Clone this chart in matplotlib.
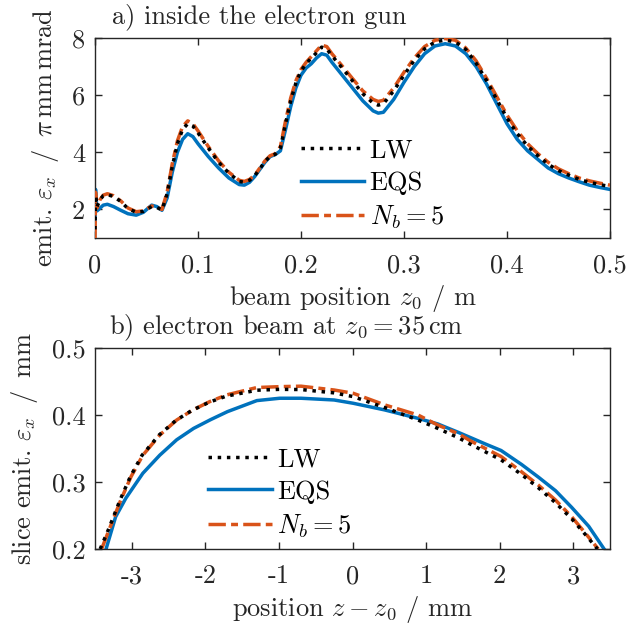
import numpy as np
import matplotlib
matplotlib.use('Agg')
import matplotlib.pyplot as plt

# --- a) emittance along the gun ---
z0_gun = [0, 0.0005, 0.002, 0.005, 0.008, 0.012, 0.018, 0.025, 0.032, 0.04, 0.047,
          0.055, 0.06, 0.065, 0.07, 0.075, 0.08, 0.085, 0.09, 0.095, 0.1, 0.11, 0.12,
          0.13, 0.14, 0.145, 0.15, 0.155, 0.16, 0.165, 0.17, 0.175, 0.18, 0.185, 0.19,
          0.195, 0.2, 0.205, 0.21, 0.215, 0.22, 0.225, 0.23, 0.24, 0.25, 0.26, 0.27,
          0.275, 0.28, 0.29, 0.3, 0.31, 0.32, 0.33, 0.34, 0.35, 0.36, 0.37, 0.38, 0.39,
          0.4, 0.41, 0.42, 0.43, 0.44, 0.45, 0.46, 0.47, 0.48, 0.49, 0.5]

emit_eqs = [1.6, 2.7, 1.95, 2.05, 2.15, 2.18, 2.1, 1.97, 1.85, 1.8, 1.9,
            2.15, 2.1, 1.97, 2.4, 3.3, 4.0, 4.45, 4.65, 4.55, 4.3, 3.85, 3.45,
            3.1, 2.87, 2.85, 2.95, 3.15, 3.4, 3.65, 3.85, 3.92, 4.05, 4.8, 5.6,
            6.25, 6.7, 6.95, 7.1, 7.3, 7.45, 7.4, 7.15, 6.7, 6.25, 5.8, 5.45,
            5.37, 5.4, 5.85, 6.45, 7.0, 7.45, 7.72, 7.8, 7.72, 7.45, 7.0, 6.4, 5.7,
            5.0, 4.45, 4.05, 3.75, 3.45, 3.25, 3.1, 2.97, 2.85, 2.77, 2.7]

emit_lw = [1.3, 2.5, 2.1, 2.35, 2.48, 2.52, 2.45, 2.28, 2.03, 1.9, 1.93,
           2.1, 2.07, 1.98, 2.55, 3.5, 4.3, 4.8, 5.0, 4.92, 4.68, 4.15, 3.65,
           3.27, 2.98, 2.95, 3.02, 3.18, 3.42, 3.68, 3.86, 3.93, 4.15, 5.0, 5.8,
           6.42, 6.85, 7.1, 7.3, 7.48, 7.68, 7.62, 7.38, 6.95, 6.5, 6.05, 5.72,
           5.65, 5.7, 6.15, 6.7, 7.22, 7.62, 7.86, 7.93, 7.86, 7.6, 7.12, 6.52, 5.85,
           5.2, 4.65, 4.22, 3.88, 3.58, 3.36, 3.2, 3.05, 2.95, 2.87, 2.8]

emit_nb5 = [1.0, 2.6, 2.05, 2.35, 2.5, 2.55, 2.48, 2.3, 2.05, 1.92, 1.95,
            2.12, 2.08, 2.0, 2.6, 3.6, 4.4, 4.9, 5.1, 5.0, 4.75, 4.2, 3.7,
            3.3, 3.02, 2.98, 3.05, 3.2, 3.45, 3.7, 3.88, 3.95, 4.2, 5.1, 5.9,
            6.5, 6.9, 7.15, 7.35, 7.55, 7.75, 7.7, 7.45, 7.02, 6.58, 6.15, 5.85,
            5.78, 5.82, 6.25, 6.8, 7.3, 7.7, 7.92, 7.98, 7.92, 7.65, 7.2, 6.6, 5.95,
            5.3, 4.75, 4.3, 3.95, 3.65, 3.42, 3.25, 3.1, 3.0, 2.92, 2.85]

# --- b) slice emittance at z0 = 35 cm ---
z_eqs = [-3.35, -3.22, -3.08, -2.85, -2.62, -2.39, -2.16, -1.93, -1.70, -1.30, -0.99,
         -0.70, -0.25, 0.01, 0.44, 0.89, 1.16, 1.44, 1.61, 1.80, 2.02, 2.30, 2.53,
         2.76, 2.98, 3.21, 3.42]
slice_eqs = [0.2, 0.248, 0.276, 0.313, 0.34, 0.363, 0.38, 0.393, 0.405, 0.4215, 0.425,
             0.425, 0.4224, 0.4175, 0.4075, 0.395, 0.3866, 0.374, 0.366, 0.357, 0.347,
             0.326, 0.307, 0.287, 0.262, 0.234, 0.2]

z_lw = [-3.43, -3.32, -3.16, -3.02, -2.86, -2.63, -2.40, -2.18, -1.95, -1.72, -1.30,
        -0.99, -0.70, -0.25, 0.01, 0.44, 0.89, 1.16, 1.44, 1.61, 2.02, 2.30, 2.53,
        2.76, 2.98, 3.17, 3.33]
slice_lw = [0.2, 0.2284, 0.273, 0.308, 0.340, 0.37, 0.392, 0.407, 0.419, 0.428, 0.437,
            0.4383, 0.438, 0.433, 0.4274, 0.411, 0.3925, 0.38, 0.366, 0.356, 0.333,
            0.311, 0.291, 0.269, 0.245, 0.221, 0.2]

z_nb5 = [-3.41, -3.31, -3.15, -3.01, -2.85, -2.62, -2.39, -2.17, -1.94, -1.71, -1.30,
         -0.99, -0.70, -0.25, 0.01, 0.44, 0.89, 1.16, 1.44, 1.61, 2.02, 2.30, 2.53,
         2.76, 2.98, 3.17, 3.34]
slice_nb5 = [0.2, 0.2284, 0.273, 0.308, 0.340, 0.37, 0.3925, 0.4075, 0.42, 0.43, 0.441,
             0.4423, 0.443, 0.4373, 0.4324, 0.415, 0.40, 0.385, 0.372, 0.361, 0.338,
             0.315, 0.295, 0.273, 0.248, 0.223, 0.2]

labels = ['LW', 'EQS', r'$N_b = 5$']

plt.rcParams['font.family'] = 'serif'
plt.rcParams['font.serif'] = ['cmr10']
plt.rcParams['mathtext.fontset'] = 'cm'
plt.rcParams['axes.unicode_minus'] = False
plt.rcParams['font.size'] = 19

dark = '#262626'
blue = '#0072BD'
orange = '#D95319'

fig = plt.figure(figsize=(6.36, 6.26), dpi=100)
ax1 = fig.add_axes([0.1494, 0.6198, 0.8097, 0.3195])
ax2 = fig.add_axes([0.1494, 0.1230, 0.8097, 0.3211])


def draw(ax, xl, yl, xe, ye, xn, yn):
    l_eqs, = ax.plot(xe, ye, color=blue, lw=2.5, zorder=2)
    l_nb, = ax.plot(xn, yn, color=orange, lw=2.5, zorder=3)
    l_nb.set_dashes((5, 1.5, 2, 1.5))
    l_lw, = ax.plot(xl, yl, color='black', lw=2.5, ls=':', zorder=4)
    return [l_lw, l_eqs, l_nb]


def style(ax):
    ax.tick_params(direction='in', top=True, right=True, length=5, width=1.0,
                   colors=dark, labelsize=19)
    ax.tick_params(axis='x', pad=11)
    ax.tick_params(axis='y', pad=7)
    for s in ax.spines.values():
        s.set_color(dark)
        s.set_linewidth(1.0)


handles = draw(ax1, z0_gun, emit_lw, z0_gun, emit_eqs, z0_gun, emit_nb5)
ax1.set_xlim(0, 0.5)
ax1.set_ylim(1, 8)
ax1.set_xticks([0, 0.1, 0.2, 0.3, 0.4, 0.5])
ax1.set_xticklabels(['0', '0.1', '0.2', '0.3', '0.4', '0.5'])
ax1.set_yticks([2, 4, 6, 8])
style(ax1)
ax1.set_xlabel(r'beam position $z_0$ / m', color=dark, labelpad=4)
ax1.set_ylabel(r'emit. $\varepsilon_x$ $\,/\,$ $\pi\,\mathrm{mm\,mrad}$', color=dark, labelpad=8)
ax1.text(0.033, 1.105, 'a) inside the electron gun', transform=ax1.transAxes,
         ha='left', va='center', color=dark)
ax1.legend(handles, labels, loc='center left', bbox_to_anchor=(0.40, 0.265),
           frameon=False, borderpad=0, borderaxespad=0, handlelength=2.4,
           handletextpad=0.2, labelspacing=0.33, fontsize=19)

handles = draw(ax2, z_lw, slice_lw, z_eqs, slice_eqs, z_nb5, slice_nb5)
ax2.set_xlim(-3.5, 3.5)
ax2.set_ylim(0.2, 0.5)
ax2.set_xticks([-3, -2, -1, 0, 1, 2, 3])
ax2.set_yticks([0.2, 0.3, 0.4, 0.5])
style(ax2)
ax2.set_xlabel(r'position $z - z_0$ / mm', color=dark, labelpad=4)
ax2.set_ylabel(r'slice emit. $\varepsilon_x$ $\,/\,$ mm', color=dark, labelpad=8)
ax2.text(0.028, 1.10, r'b) electron beam at $z_0 = 35\,\mathrm{cm}$', transform=ax2.transAxes,
         ha='left', va='center', color=dark)
ax2.legend(handles, labels, loc='center left', bbox_to_anchor=(0.22, 0.275),
           frameon=False, borderpad=0, borderaxespad=0, handlelength=2.4,
           handletextpad=0.2, labelspacing=0.33, fontsize=19)

fig.savefig('out.png', dpi=100)
